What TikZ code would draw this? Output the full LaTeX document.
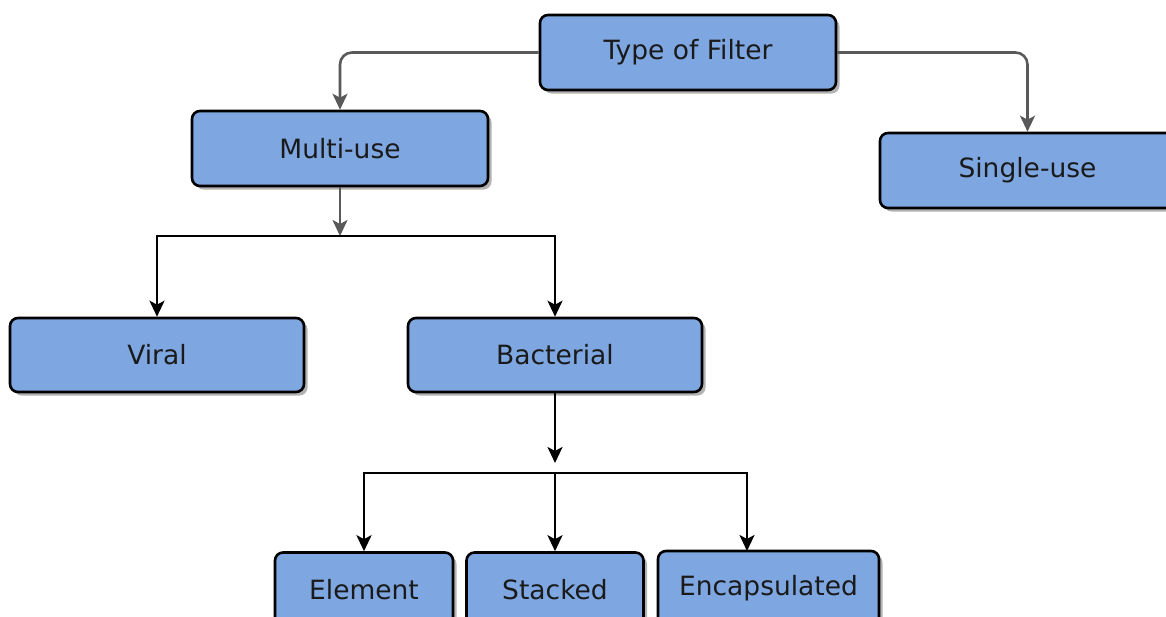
\documentclass[tikz,border=0pt]{standalone}
\usepackage{fontspec}
\setmainfont{DejaVu Sans}
\usetikzlibrary{arrows.meta,shadows}
\definecolor{boxblue}{HTML}{7EA6E0}
\definecolor{linkgrey}{HTML}{595959}
\definecolor{inkdark}{HTML}{1A1A1A}
\tikzset{
  box/.style={draw=black, line width=2.6pt, fill=boxblue, rounded corners=8pt,
    text=inkdark, font=\fontsize{26.5}{31}\selectfont, inner sep=0pt,
    drop shadow={shadow xshift=3.5pt, shadow yshift=-3.5pt, fill=black, opacity=0.3}},
  tip/.style={-{Stealth[length=16pt,width=15pt,inset=4pt]}},
  toplink/.style={draw=linkgrey, line width=2.6pt, rounded corners=12pt, tip},
  sublink/.style={draw=black, line width=2.6pt, tip},
}
\begin{document}
\begin{tikzpicture}[x=1pt,y=1pt]
\useasboundingbox (0,0) rectangle (1166,-616);
\clip (0,0) rectangle (1166,-616);

% boxes
\node[box, minimum width=296pt, minimum height=75pt] (type)   at (688,-52.5)  {Type of Filter};
\node[box, minimum width=296pt, minimum height=75pt] (multi)  at (340,-148.5) {Multi-use};
\node[box, minimum width=295pt, minimum height=75pt] (single) at (1027.5,-170.5) {Single-use};
\node[box, minimum width=294pt, minimum height=74pt] (viral)  at (157,-355)   {Viral};
\node[box, minimum width=294pt, minimum height=74pt] (bact)   at (555,-355)   {Bacterial};
\node[box, minimum width=178pt, minimum height=75pt] (elem)   at (364,-590)   {Element};
\node[box, minimum width=177pt, minimum height=75pt] (stack)  at (555,-590)   {Stacked};
\node[box, minimum width=221pt, minimum height=75pt] (encap)  at (768.5,-588.5) {Encapsulated};

% junction points
\coordinate (j1) at (340,-236);
\coordinate (j2) at (555,-463);
\coordinate (j3) at (555,-473);
\coordinate (encIn) at (747,-551);

% top level
\draw[toplink] (type.west) -| (multi.north);
\draw[toplink] (type.east) -| (single.north);

% multi-use branches
\draw[toplink, rounded corners=0pt] (multi.south) -- (j1);
\draw[sublink] (j1) -| (viral.north);
\draw[sublink] (j1) -| (bact.north);

% bacterial branches
\draw[sublink] (bact.south) -- (j2);
\draw[sublink] (j3) -| (elem.north);
\draw[sublink] (j3) -- (stack.north);
\draw[sublink] (j3) -| (encIn);
\end{tikzpicture}
\end{document}
